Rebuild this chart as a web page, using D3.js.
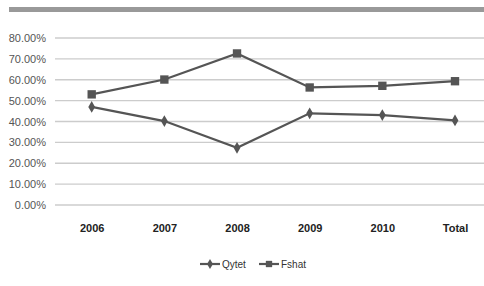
<!DOCTYPE html>
<html>
<head>
<meta charset="utf-8">
<script src="https://cdn.jsdelivr.net/npm/d3@7"></script>
<style>
  body { margin: 0; background: #fff; }
  svg { display: block; font-family: "Liberation Sans Narrow", "Arial Narrow", sans-serif; }
</style>
</head>
<body>
<svg id="chart" width="484" height="286"></svg>
<script>
var categories = ["2006", "2007", "2008", "2009", "2010", "Total"];
var qytet = [0.470, 0.402, 0.274, 0.439, 0.431, 0.405];
var fshat = [0.530, 0.601, 0.726, 0.563, 0.571, 0.593];
var yTicks = [0, 0.1, 0.2, 0.3, 0.4, 0.5, 0.6, 0.7, 0.8];

var svg = d3.select("#chart");
var lineColor = "#555";

// top band
svg.append("rect").attr("x", 9).attr("y", 7).attr("width", 475).attr("height", 5).attr("fill", "#999");

var x = d3.scalePoint().domain(categories).range([91.7, 455]);
var y = d3.scaleLinear().domain([0, 0.8]).range([205, 38]);

// gridlines
svg.append("g").selectAll("line").data(yTicks).join("line")
  .attr("x1", 55).attr("x2", 484)
  .attr("y1", function(d) { return y(d); }).attr("y2", function(d) { return y(d); })
  .attr("stroke", "#ccc").attr("stroke-width", 1.3);

var yAxis = d3.axisLeft(y).tickValues(yTicks).tickSize(0).tickPadding(0)
  .tickFormat(function(d) { return (d * 100).toFixed(2) + "%"; });
var gy = svg.append("g").attr("transform", "translate(46,0)").call(yAxis);
gy.select(".domain").remove();
gy.selectAll("text").attr("font-size", 11).attr("fill", "#555").attr("font-family", null);

var xAxis = d3.axisBottom(x).tickSize(0).tickPadding(0);
var gx = svg.append("g").attr("transform", "translate(0,224)").call(xAxis);
gx.select(".domain").remove();
gx.selectAll("text").attr("font-size", 11).attr("font-weight", "bold").attr("fill", "#222").attr("font-family", null);

var line = d3.line().x(function(d, i) { return x(categories[i]); }).y(function(d) { return y(d); });

svg.append("path").datum(qytet).attr("d", line).attr("fill", "none").attr("stroke", lineColor).attr("stroke-width", 2.2);
svg.append("path").datum(fshat).attr("d", line).attr("fill", "none").attr("stroke", lineColor).attr("stroke-width", 2.2);

var diamond = d3.symbol().type(d3.symbolDiamond).size(40);
var square = d3.symbol().type(d3.symbolSquare).size(70);

svg.append("g").selectAll("path").data(qytet).join("path")
  .attr("transform", function(d, i) { return "translate(" + x(categories[i]) + "," + y(d) + ")"; })
  .attr("d", diamond).attr("fill", lineColor);
svg.append("g").selectAll("path").data(fshat).join("path")
  .attr("transform", function(d, i) { return "translate(" + x(categories[i]) + "," + y(d) + ")"; })
  .attr("d", square).attr("fill", lineColor);

// legend
var legend = [
  { name: "Qytet", sym: diamond, x: 200 },
  { name: "Fshat", sym: square, x: 259 }
];
var lg = svg.append("g").selectAll("g").data(legend).join("g")
  .attr("transform", function(d) { return "translate(" + d.x + ",264)"; });
lg.append("line").attr("x1", 0).attr("x2", 20).attr("stroke", lineColor).attr("stroke-width", 2.2);
lg.append("path").attr("transform", "translate(10,0)").attr("d", function(d) { return d.sym === square ? d3.symbol().type(d3.symbolSquare).size(40)() : d3.symbol().type(d3.symbolDiamond).size(30)(); }).attr("fill", lineColor);
lg.append("text").attr("x", 22).attr("dy", "0.35em").attr("font-size", 10).attr("fill", "#333").text(function(d) { return d.name; });
</script>
</body>
</html>
